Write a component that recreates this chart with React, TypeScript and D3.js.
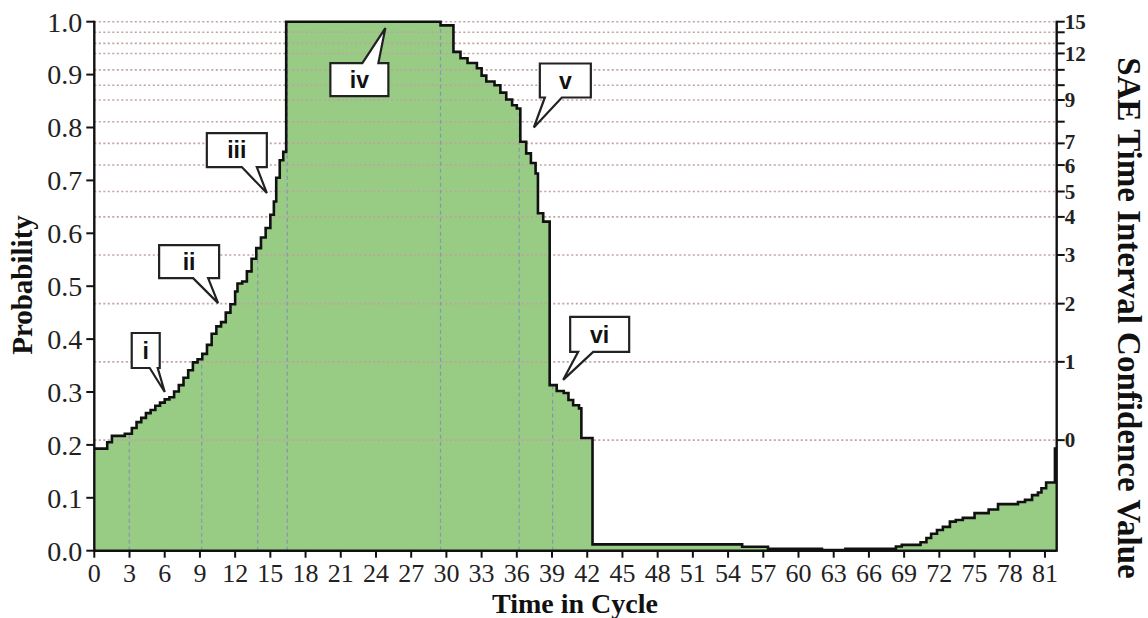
import React from "react";
import * as d3 from "d3";

// ---- data ----
const times = [
  0, 1.1, 1.5, 2.6, 3.2, 3.6, 4.0, 4.4, 4.8, 5.2, 5.6, 6.0, 6.4, 6.8, 7.2, 7.6, 8.0, 8.4, 8.8, 9.2,
  9.6, 10.0, 10.4, 10.8, 11.2, 11.6, 12.0, 12.2, 12.6, 13.0, 13.4, 13.8, 14.2, 14.6, 15.0, 15.3,
  15.5, 15.8, 16.1, 16.35, 29.5, 30.6, 31.2, 31.8, 32.6, 33.0, 33.4, 34.1, 34.6, 35.1, 35.6, 36.0,
  36.3, 36.8, 37.2, 37.6, 37.8, 38.25, 38.8, 39.4, 40.0, 40.4, 40.8, 41.3, 41.5, 42.45, 55.2, 57.4,
  62.0, 64.0, 68.3, 68.8, 70.4, 70.9, 71.3, 71.8, 72.3, 72.9, 73.4, 74.0, 75.0, 76.2, 77.0, 78.7,
  79.3, 79.9, 80.4, 80.7, 81.1, 81.85, 82,
];
const probs = [
  0.193, 0.205, 0.217, 0.221, 0.232, 0.243, 0.251, 0.26, 0.266, 0.274, 0.28, 0.286, 0.29, 0.301,
  0.313, 0.327, 0.341, 0.356, 0.362, 0.372, 0.389, 0.41, 0.424, 0.432, 0.45, 0.466, 0.49, 0.505,
  0.509, 0.528, 0.552, 0.572, 0.592, 0.61, 0.635, 0.66, 0.705, 0.738, 0.754, 1.0, 0.993, 0.943,
  0.931, 0.922, 0.912, 0.898, 0.887, 0.88, 0.866, 0.853, 0.842, 0.836, 0.773, 0.751, 0.733, 0.713,
  0.638, 0.622, 0.313, 0.302, 0.298, 0.285, 0.275, 0.269, 0.213, 0.012, 0.0076, 0.0035, 0.001,
  0.0035, 0.008, 0.011, 0.016, 0.024, 0.032, 0.039, 0.045, 0.055, 0.058, 0.062, 0.071, 0.078,
  0.088, 0.092, 0.096, 0.105, 0.11, 0.118, 0.129, 0.193, 0.193,
];

const xTickValues = [0, 3, 6, 9, 12, 15, 18, 21, 24, 27, 30, 33, 36, 39, 42, 45, 48, 51, 54, 57, 60, 63, 66, 69, 72, 75, 78, 81];
const yTickValues = [0, 0.1, 0.2, 0.3, 0.4, 0.5, 0.6, 0.7, 0.8, 0.9, 1.0];

// right axis (SAE confidence value) and the probability level each value sits at
const rightTickValues = [0, 1, 2, 3, 4, 5, 6, 7, 8, 9, 10, 11, 12, 13, 14, 15];
const rightTickProb = [0.209, 0.357, 0.467, 0.559, 0.631, 0.679, 0.729, 0.77, 0.811, 0.852, 0.88, 0.909, 0.94, 0.959, 0.98, 1.0];
const rightLabelled = [0, 1, 2, 3, 4, 5, 6, 7, 9, 12, 15];

// phase boundary markers (time in cycle)
const phaseTimes = [2.98, 9.15, 13.92, 16.44, 29.5, 36.2, 39.05];

// callouts
const calloutLabels = ["i", "ii", "iii", "iv", "v", "vi"];
const calloutT = [6.0, 10.55, 14.7, 24.8, 37.45, 39.95];
const calloutP = [0.3, 0.468, 0.676, 0.988, 0.8, 0.323];

// ---- layout ----
const W = 1148;
const H = 618;
const X0 = 94.3;
const X1 = 1056.7;
const Y0 = 550.7;
const Y1 = 21.7;

// box placement relative to pointer tip: dx, dy, w, h, wedge start, wedge end, wedge on top?
const calloutLayout = [
  { dx: -33, dy: -59, w: 28, h: 35, a: 18, b: 26, top: false },
  { dx: -59, dy: -58, w: 60, h: 33, a: 34, b: 49, top: false },
  { dx: -60, dy: -60, w: 60, h: 34, a: 35, b: 50, top: false },
  { dx: -55, dy: 35, w: 58, h: 33, a: 32, b: 48, top: true },
  { dx: 6, dy: -64, w: 51, h: 34, a: 5, b: 22, top: false },
  { dx: 7, dy: -63, w: 59, h: 35, a: 8, b: 23, top: false },
];

const serif = "'Liberation Serif', 'Times New Roman', serif";
const sans = "'Liberation Sans', Arial, sans-serif";

export default function App() {
  const x = d3.scaleLinear().domain([0, 82]).range([X0, X1]);
  const y = d3.scaleLinear().domain([0, 1]).range([Y0, Y1]);

  const pts = times.map((t, i) => ({ t, p: probs[i] }));
  const area = d3
    .area<{ t: number; p: number }>()
    .x((d) => x(d.t))
    .y0(y(0))
    .y1((d) => y(d.p))
    .curve(d3.curveStepAfter);
  const line = d3
    .line<{ t: number; p: number }>()
    .x((d) => x(d.t))
    .y((d) => y(d.p))
    .curve(d3.curveStepAfter);

  const bis = d3.bisector((d: { t: number }) => d.t).right;
  const valueAt = (t: number) => pts[Math.max(0, bis(pts, t) - 1)].p;

  return (
    <svg width={W} height={H} style={{ position: "absolute", left: 0, top: 0, background: "#fff" }}>
      <rect width={W} height={H} fill="#fff" />
      <path d={area(pts) || ""} fill="#98cb84" />

      {/* horizontal dotted gridlines at right-axis ticks */}
      {rightTickProb.map((p, i) => (
        <line
          key={"g" + i}
          x1={X0}
          x2={X1}
          y1={y(p)}
          y2={y(p)}
          stroke="#bfa3a0"
          strokeWidth={1.6}
          strokeDasharray="2 2.5"
        />
      ))}

      {/* phase markers */}
      {phaseTimes.map((t, i) => (
        <line
          key={"v" + i}
          x1={x(t)}
          x2={x(t)}
          y1={y(0)}
          y2={y(valueAt(t))}
          stroke="#8797ad"
          strokeWidth={1.2}
          strokeDasharray="4 3"
        />
      ))}

      <path d={line(pts) || ""} fill="none" stroke="#111" strokeWidth={2.6} />

      {/* axes lines */}
      <line x1={X0} x2={X0} y1={Y1 - 1} y2={Y0 + 1} stroke="#111" strokeWidth={2.4} />
      <line x1={X0} x2={X1} y1={Y0} y2={Y0} stroke="#111" strokeWidth={2.4} />
      <line x1={X1} x2={X1} y1={Y1 - 1} y2={Y0 + 1} stroke="#111" strokeWidth={2.4} />

      {/* left ticks */}
      {yTickValues.map((v) => (
        <g key={"yl" + v}>
          <line x1={X0 - 8} x2={X0} y1={y(v)} y2={y(v)} stroke="#111" strokeWidth={2} />
          <text
            x={X0 - 12}
            y={y(v)}
            dy="0.35em"
            textAnchor="end"
            fontFamily={serif}
            fontSize={28}
            fill="#222"
          >
            {v.toFixed(1)}
          </text>
        </g>
      ))}

      {/* bottom ticks */}
      {xTickValues.map((v) => (
        <g key={"xl" + v}>
          <line x1={x(v)} x2={x(v)} y1={Y0} y2={Y0 + 7} stroke="#111" strokeWidth={2} />
          <text x={x(v)} y={582} textAnchor="middle" fontFamily={serif} fontSize={26} fill="#222">
            {v}
          </text>
        </g>
      ))}

      {/* right ticks */}
      {rightTickValues.map((v, i) => (
        <g key={"yr" + v}>
          <line x1={X1} x2={X1 + 8} y1={y(rightTickProb[i])} y2={y(rightTickProb[i])} stroke="#111" strokeWidth={2} />
          {rightLabelled.includes(v) && (
            <text
              x={X1 + 8}
              y={y(rightTickProb[i]) + (v === 7 ? -1.5 : v === 6 ? 1 : 0)}
              dy="0.35em"
              fontFamily={serif}
              fontWeight="bold"
              fontSize={21}
              fill="#222"
            >
              {v}
            </text>
          )}
        </g>
      ))}

      {/* axis titles */}
      <text
        transform={`translate(32,285) rotate(-90)`}
        textAnchor="middle"
        fontFamily={serif}
        fontWeight="bold"
        fontSize={29}
        fill="#111"
      >
        Probability
      </text>
      <text x={575} y={613} textAnchor="middle" fontFamily={serif} fontWeight="bold" fontSize={28} fill="#111">
        Time in Cycle
      </text>
      <text
        transform={`translate(1118,318) rotate(90)`}
        textAnchor="middle"
        fontFamily={serif}
        fontWeight="bold"
        fontSize={33}
        fill="#111"
      >
        SAE Time Interval Confidence Value
      </text>

      {/* callouts */}
      {calloutLabels.map((lab, i) => {
        const L = calloutLayout[i];
        const tx = x(calloutT[i]);
        const ty = y(calloutP[i]);
        const l = tx + L.dx;
        const t = ty + L.dy;
        const r = l + L.w;
        const b = t + L.h;
        const d = L.top
          ? `M${l},${t} H${l + L.a} L${tx},${ty} L${l + L.b},${t} H${r} V${b} H${l} Z`
          : `M${l},${t} H${r} V${b} H${l + L.b} L${tx},${ty} L${l + L.a},${b} H${l} Z`;
        return (
          <g key={"c" + i}>
            <path d={d} fill="#fff" stroke="#222" strokeWidth={2.2} strokeLinejoin="miter" />
            <text
              x={l + L.w / 2}
              y={t + L.h / 2}
              dy="0.36em"
              textAnchor="middle"
              fontFamily={sans}
              fontWeight="bold"
              fontSize={23}
              fill="#111"
            >
              {lab}
            </text>
          </g>
        );
      })}
    </svg>
  );
}
